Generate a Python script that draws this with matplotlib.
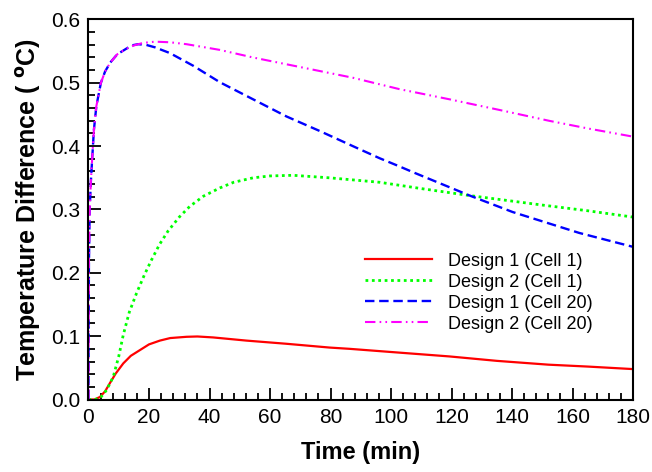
import matplotlib
matplotlib.use("Agg")
import matplotlib.pyplot as plt
from matplotlib.ticker import MultipleLocator, FormatStrFormatter

plt.rcParams['font.family'] = ['Liberation Sans', 'DejaVu Sans']

# Design 1 (Cell 1)
t_d1c1 = [0, 2, 3.8, 5.5, 7.1, 9, 11.5, 14, 17, 20, 23.6, 27, 32.4, 36, 41.2, 52.2, 65.4, 79.7, 86.3, 100, 119.3, 135, 152, 165, 180]
y_d1c1 = [0, 0, 0.004, 0.013, 0.026, 0.041, 0.057, 0.069, 0.078, 0.087, 0.093, 0.097, 0.099, 0.0995, 0.098, 0.093, 0.088, 0.082, 0.080, 0.075, 0.068, 0.061, 0.055, 0.052, 0.048]

# Design 2 (Cell 1)
t_d2c1 = [0, 2, 3.8, 6, 8.2, 10, 11.5, 13.5, 15.9, 18.5, 20.9, 23.5, 26.3, 30, 33.5, 38, 43.4, 48, 54.4, 60, 67.6, 79.7, 96.2, 110, 126, 150, 165, 180]
y_d2c1 = [0, 0, 0.002, 0.015, 0.036, 0.068, 0.102, 0.138, 0.168, 0.197, 0.221, 0.245, 0.266, 0.288, 0.305, 0.321, 0.334, 0.343, 0.350, 0.353, 0.354, 0.350, 0.343, 0.333, 0.322, 0.307, 0.298, 0.288]

# Design 1 (Cell 20)
t_d1c20 = [0, 0.05, 0.15, 0.4, 0.8, 1.15, 1.8, 2.6, 4.1, 5.5, 7.2, 9.5, 12.2, 14.2, 16.4, 19, 22, 26.9, 34.6, 43.4,
           54.4, 65.4, 76.4, 87.4, 96.2, 102.8, 107.2, 126, 140.2, 162.2, 180]
y_d1c20 = [0, 0.12, 0.215, 0.30, 0.345, 0.374, 0.426, 0.463, 0.50, 0.518, 0.532, 0.545, 0.553, 0.559, 0.561, 0.560, 0.556, 0.547, 0.527, 0.501,
           0.474, 0.447, 0.424, 0.400, 0.381, 0.368, 0.359, 0.322, 0.296, 0.263, 0.241]

# Design 2 (Cell 20)
t_d2c20 = [0, 0.05, 0.15, 0.4, 0.8, 1.15, 1.8, 2.6, 4.1, 5.5, 7.2, 9.5, 12.2, 15, 18, 22, 27, 32.4, 43.4,
           54.4, 70.9, 87.4, 102.8, 119.3, 136, 152.3, 165, 180]
y_d2c20 = [0, 0.12, 0.215, 0.30, 0.345, 0.374, 0.426, 0.463, 0.50, 0.518, 0.532, 0.545, 0.553, 0.559, 0.563, 0.565, 0.564, 0.561, 0.552,
           0.540, 0.524, 0.508, 0.490, 0.474, 0.457, 0.440, 0.428, 0.415]

labels = ['Design 1 (Cell 1)', 'Design 2 (Cell 1)', 'Design 1 (Cell 20)', 'Design 2 (Cell 20)']

fig = plt.figure(figsize=(6.52, 4.72), dpi=100)
ax = fig.add_axes([0.1357, 0.1536, 0.971 - 0.1357, 0.9587 - 0.1536])

ax.plot(t_d1c1, y_d1c1, color='#FF0000', lw=1.6, linestyle='-', label=labels[0])
ax.plot(t_d2c1, y_d2c1, color='#00FF00', lw=2.0, linestyle=(0, (1, 1.3)), label=labels[1])
ax.plot(t_d1c20, y_d1c20, color='#0000FF', lw=1.7, linestyle=(0, (4, 2)), label=labels[2])
ax.plot(t_d2c20, y_d2c20, color='#FF00FF', lw=1.5, linestyle=(0, (5, 2, 0.8, 2, 0.8, 2)), label=labels[3])

ax.set_xlim(0, 180)
ax.set_ylim(0, 0.6)
ax.xaxis.set_major_locator(MultipleLocator(20))
ax.xaxis.set_minor_locator(MultipleLocator(4))
ax.yaxis.set_major_locator(MultipleLocator(0.1))
ax.yaxis.set_minor_locator(MultipleLocator(0.02))
ax.yaxis.set_major_formatter(FormatStrFormatter('%.1f'))

ax.tick_params(which='both', direction='in', top=False, right=False, labelsize=15, width=1.3, colors='black')
ax.tick_params(which='major', length=9, pad=6)
ax.tick_params(which='minor', length=5)
for s in ax.spines.values():
    s.set_linewidth(1.5)

ax.set_xlabel('Time (min)', fontsize=17, fontweight='bold', labelpad=10)
ax.set_ylabel('Temperature Difference ( $^{\\mathbf{o}}$C)', fontsize=18, fontweight='bold', labelpad=6)

leg = ax.legend(loc='upper left', bbox_to_anchor=(0.508, 0.386), frameon=False, fontsize=13,
                handlelength=3.7, handletextpad=0.9, labelspacing=0.22, borderpad=0, borderaxespad=0)

fig.savefig('out.png', dpi=100)
